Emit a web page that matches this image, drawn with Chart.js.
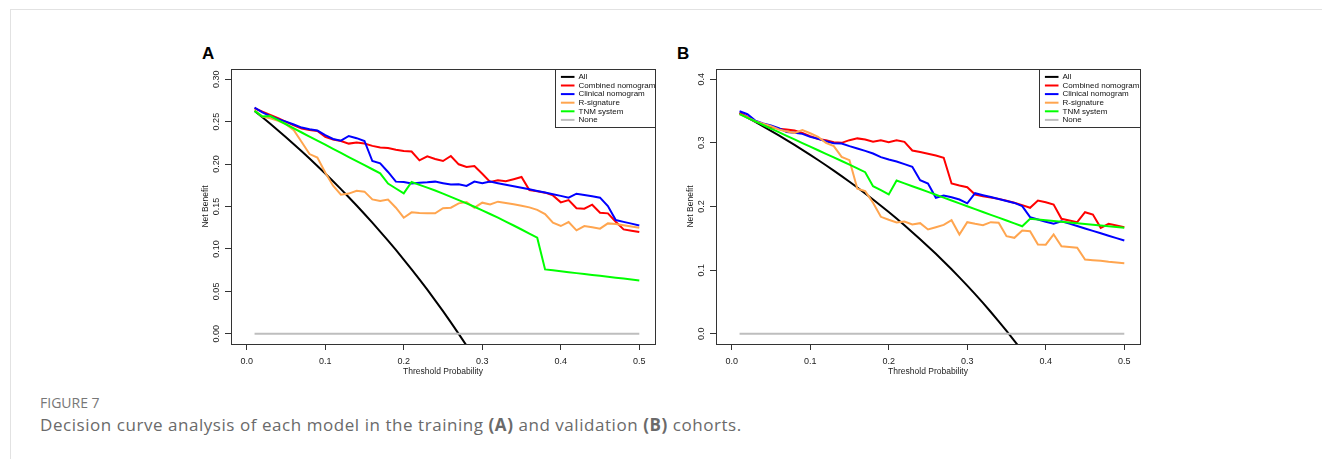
<!DOCTYPE html>
<html>
<head>
<meta charset="utf-8">
<script src="https://cdn.jsdelivr.net/npm/chart.js@4.4.1/dist/chart.umd.min.js"></script>
<style>
  body { margin: 0; background: #fff; width: 1322px; height: 459px; overflow: hidden; position: relative; font-family: 'Liberation Sans', Arial, sans-serif; }
  .frame { position: absolute; left: 10px; top: 9px; width: 1400px; height: 500px; border: 1px solid #e2e2e2; }
  .panel-label { position: absolute; font-weight: bold; font-size: 17px; line-height: 17px; color: #000; }
  canvas { position: absolute; }
  .fig { position: absolute; left: 40px; top: 396px; font-family: 'Open Sans', sans-serif; font-size: 14px; line-height: 14px; color: #777; }
  .caption { position: absolute; left: 40px; top: 416px; font-family: 'Open Sans', sans-serif; font-size: 17px; line-height: 17px; letter-spacing: 0.55px; color: #6a6a6a; white-space: nowrap; }
</style>
</head>
<body>
<div class="frame"></div>
<div class="panel-label" style="left:202px; top:45px;">A</div>
<div class="panel-label" style="left:677px; top:45px;">B</div>
<canvas id="chartA" width="475" height="345" style="left:190px; top:40px;"></canvas>
<canvas id="chartB" width="475" height="345" style="left:675px; top:40px;"></canvas>
<div class="fig">FIGURE 7</div>
<div class="caption">Decision curve analysis of each model in the training <b>(A)</b> and validation <b>(B)</b> cohorts.</div>

<script>
// threshold probabilities (x values of every curve)
const THRESHOLDS = [0.01, 0.02, 0.03, 0.04, 0.05, 0.06, 0.07, 0.08, 0.09, 0.10,
    0.11, 0.12, 0.13, 0.14, 0.15, 0.16, 0.17, 0.18, 0.19, 0.20,
    0.21, 0.22, 0.23, 0.24, 0.25, 0.26, 0.27, 0.28, 0.29, 0.30,
    0.31, 0.32, 0.33, 0.34, 0.35, 0.36, 0.37, 0.38, 0.39, 0.40,
    0.41, 0.42, 0.43, 0.44, 0.45, 0.46, 0.47, 0.48, 0.49, 0.50];

const X_TICKS = [0, 0.1, 0.2, 0.3, 0.4, 0.5];
const X_TICK_LABELS = ['0.0', '0.1', '0.2', '0.3', '0.4', '0.5'];
const Y_TICKS_A = [0, 0.05, 0.10, 0.15, 0.20, 0.25, 0.30];
const Y_TICK_LABELS_A = ['0.00', '0.05', '0.10', '0.15', '0.20', '0.25', '0.30'];
const Y_TICKS_B = [0, 0.1, 0.2, 0.3, 0.4];
const Y_TICK_LABELS_B = ['0.0', '0.1', '0.2', '0.3', '0.4'];

const SERIES_NAMES = ['All', 'Combined nomogram', 'Clinical nomogram', 'R-signature', 'TNM system', 'None'];
const SERIES_COLORS = ['#000000', '#ff0000', '#0000ff', '#ffa54f', '#00ff00', '#bebebe'];

// A: training cohort
const ALL_A = [0.2626, 0.2551, 0.2474, 0.2396, 0.2316, 0.2234, 0.2151, 0.2065, 0.1978, 0.1889,
    0.1798, 0.1705, 0.1609, 0.1512, 0.1412, 0.1310, 0.1205, 0.1098, 0.0988, 0.0875,
    0.0760, 0.0641, 0.0520, 0.0395, 0.0267, 0.0135, 0.0000, -0.0139, -0.0282];
const COMBINED_A = [0.2658, 0.2618, 0.2580, 0.2540, 0.2497, 0.2455, 0.2420, 0.2402, 0.2390, 0.2320,
    0.2290, 0.2272, 0.2241, 0.2253, 0.2243, 0.2214, 0.2196, 0.2188, 0.2168, 0.2154,
    0.2147, 0.2044, 0.2092, 0.2060, 0.2036, 0.2095, 0.1997, 0.1966, 0.1977, 0.1885,
    0.1790, 0.1810, 0.1797, 0.1822, 0.1848, 0.1694, 0.1680, 0.1663, 0.1631, 0.1549,
    0.1576, 0.1480, 0.1474, 0.1521, 0.1427, 0.1419, 0.1321, 0.1230, 0.1215, 0.1199];
const CLINICAL_A = [0.2666, 0.2610, 0.2565, 0.2530, 0.2500, 0.2466, 0.2430, 0.2410, 0.2395, 0.2340,
    0.2295, 0.2275, 0.2331, 0.2305, 0.2272, 0.2036, 0.2009, 0.1907, 0.1793, 0.1789,
    0.1770, 0.1781, 0.1785, 0.1793, 0.1775, 0.1758, 0.1762, 0.1742, 0.1793, 0.1773,
    0.1793, 0.1775, 0.1757, 0.1738, 0.1720, 0.1702, 0.1683, 0.1664, 0.1645, 0.1625,
    0.1604, 0.1651, 0.1636, 0.1620, 0.1604, 0.1505, 0.1340, 0.1319, 0.1298, 0.1277];
const RSIG_A = [0.2634, 0.2560, 0.2540, 0.2510, 0.2470, 0.2400, 0.2260, 0.2118, 0.2076, 0.1900,
    0.1745, 0.1640, 0.1652, 0.1685, 0.1675, 0.1584, 0.1564, 0.1582, 0.1486, 0.1368,
    0.1431, 0.1424, 0.1420, 0.1420, 0.1480, 0.1486, 0.1537, 0.1553, 0.1486, 0.1545,
    0.1525, 0.1557, 0.1541, 0.1526, 0.1510, 0.1490, 0.1460, 0.1410, 0.1309, 0.1270,
    0.1317, 0.1219, 0.1270, 0.1255, 0.1239, 0.1301, 0.1295, 0.1280, 0.1265, 0.1250];
const TNM_A = [0.2627, 0.2560, 0.2565, 0.2517, 0.2469, 0.2420, 0.2372, 0.2324, 0.2276, 0.2228,
    0.2180, 0.2131, 0.2083, 0.2035, 0.1987, 0.1939, 0.1890, 0.1770, 0.1712, 0.1655,
    0.1789, 0.1755, 0.1722, 0.1688, 0.1652, 0.1614, 0.1575, 0.1536, 0.1497, 0.1455,
    0.1412, 0.1368, 0.1322, 0.1276, 0.1229, 0.1181, 0.1132, 0.0759, 0.0748, 0.0737,
    0.0726, 0.0715, 0.0705, 0.0694, 0.0683, 0.0672, 0.0661, 0.0651, 0.0640, 0.0629];

// B: validation cohort
const ALL_B = [0.3465, 0.3398, 0.3330, 0.3260, 0.3189, 0.3117, 0.3043, 0.2967, 0.2890, 0.2811,
    0.2730, 0.2648, 0.2563, 0.2477, 0.2388, 0.2298, 0.2205, 0.2110, 0.2012, 0.1913,
    0.1810, 0.1705, 0.1597, 0.1487, 0.1373, 0.1257, 0.1137, 0.1014, 0.0887, 0.0757,
    0.0623, 0.0485, 0.0343, 0.0197, 0.0046, -0.0109, -0.0270];
const COMBINED_B = [0.3470, 0.3408, 0.3340, 0.3293, 0.3250, 0.3220, 0.3210, 0.3194, 0.3157, 0.3105,
    0.3060, 0.3040, 0.3010, 0.3000, 0.3042, 0.3070, 0.3052, 0.3016, 0.3042, 0.3010,
    0.3042, 0.3016, 0.2880, 0.2855, 0.2830, 0.2800, 0.2765, 0.2361, 0.2330, 0.2303,
    0.2188, 0.2162, 0.2141, 0.2120, 0.2089, 0.2058, 0.2021, 0.1980, 0.2094, 0.2068,
    0.2031, 0.1807, 0.1780, 0.1753, 0.1910, 0.1874, 0.1665, 0.1728, 0.1702, 0.1675];
const CLINICAL_B = [0.3497, 0.3450, 0.3350, 0.3304, 0.3272, 0.3230, 0.3170, 0.3160, 0.3141, 0.3094,
    0.3063, 0.3026, 0.2995, 0.2990, 0.2948, 0.2911, 0.2874, 0.2832, 0.2775, 0.2738,
    0.2707, 0.2665, 0.2624, 0.2413, 0.2361, 0.2137, 0.2173, 0.2145, 0.2110, 0.2050,
    0.2209, 0.2178, 0.2148, 0.2117, 0.2087, 0.2056, 0.2005, 0.1832, 0.1797, 0.1760,
    0.1728, 0.1769, 0.1731, 0.1693, 0.1655, 0.1617, 0.1579, 0.1541, 0.1503, 0.1466];
const RSIG_B = [0.3450, 0.3400, 0.3340, 0.3300, 0.3262, 0.3210, 0.3178, 0.3157, 0.3199, 0.3150,
    0.3095, 0.3000, 0.2948, 0.2780, 0.2728, 0.2278, 0.2241, 0.2058, 0.1838, 0.1791,
    0.1749, 0.1764, 0.1717, 0.1738, 0.1639, 0.1675, 0.1712, 0.1785, 0.1560, 0.1753,
    0.1728, 0.1707, 0.1754, 0.1744, 0.1533, 0.1508, 0.1623, 0.1612, 0.1403, 0.1400,
    0.1560, 0.1376, 0.1365, 0.1351, 0.1167, 0.1157, 0.1147, 0.1131, 0.1120, 0.1110];
const TNM_B = [0.3450, 0.3393, 0.3337, 0.3280, 0.3224, 0.3167, 0.3110, 0.3054, 0.2997, 0.2941,
    0.2884, 0.2828, 0.2771, 0.2715, 0.2658, 0.2600, 0.2539, 0.2319, 0.2256, 0.2189,
    0.2409, 0.2364, 0.2319, 0.2274, 0.2229, 0.2184, 0.2139, 0.2094, 0.2049, 0.2004,
    0.1959, 0.1914, 0.1869, 0.1825, 0.1780, 0.1735, 0.1690, 0.1807, 0.1795, 0.1783,
    0.1772, 0.1760, 0.1748, 0.1736, 0.1724, 0.1713, 0.1701, 0.1689, 0.1677, 0.1665];

// "None" reference line
const NONE_X = [0.01, 0.50];
const NONE_Y = [0, 0];

const FONT = "'Liberation Sans', Arial, sans-serif";
Chart.defaults.font.family = FONT;

function toPoints(xs, ys) {
    return ys.map((y, i) => ({ x: xs[i], y: y }));
}

// box, rotated y labels, axis titles and legend, drawn the way base R does
const rStyle = {
    id: 'rStyle',
    afterDatasetsDraw(chart, args, opts) {
        const ctx = chart.ctx;
        const a = chart.chartArea;
        const ys = chart.scales.y;
        ctx.save();

        ctx.strokeStyle = '#333';
        ctx.lineWidth = 1;
        ctx.strokeRect(Math.round(a.left) + 0.5, Math.round(a.top) + 0.5,
            Math.round(a.right - a.left), Math.round(a.bottom - a.top));

        ctx.fillStyle = '#222';
        ctx.textAlign = 'center';
        ctx.textBaseline = 'middle';
        ctx.font = '9px ' + FONT;
        opts.yTicks.forEach((v, i) => {
            ctx.save();
            ctx.translate(a.left - 14, ys.getPixelForValue(v));
            ctx.rotate(-Math.PI / 2);
            ctx.fillText(opts.yLabels[i], 0, 0);
            ctx.restore();
        });

        ctx.font = '8.5px ' + FONT;
        ctx.fillText('Threshold Probability', (a.left + a.right) / 2, a.bottom + 28);
        ctx.save();
        ctx.translate(a.left - 25, (a.top + a.bottom) / 2);
        ctx.rotate(-Math.PI / 2);
        ctx.fillText('Net Benefit', 0, 0);
        ctx.restore();

        // legend in top-right corner
        const lx = Math.round(a.right - opts.legendWidth) + 0.5;
        const ly = Math.round(a.top) + 0.5;
        ctx.fillStyle = '#fff';
        ctx.fillRect(lx, ly, opts.legendWidth, 58);
        ctx.strokeStyle = '#333';
        ctx.lineWidth = 1;
        ctx.strokeRect(lx, ly, Math.round(opts.legendWidth), 58);
        ctx.font = '8px ' + FONT;
        ctx.textAlign = 'left';
        chart.data.datasets.forEach((ds, i) => {
            const y = ly + 7.4 + i * 8.6;
            ctx.strokeStyle = ds.borderColor;
            ctx.lineWidth = 2;
            ctx.beginPath();
            ctx.moveTo(lx + 5.4, y);
            ctx.lineTo(lx + 19, y);
            ctx.stroke();
            ctx.fillStyle = '#111';
            ctx.fillText(ds.label, lx + 23, y);
        });
        ctx.restore();
    }
};

function makeChart(id, series, yMin, yMax, yTicks, yLabels, legendWidth) {
    const datasets = series.map((s, i) => ({
        label: SERIES_NAMES[i],
        data: toPoints(s.x, s.y),
        borderColor: SERIES_COLORS[i],
        backgroundColor: SERIES_COLORS[i],
        borderWidth: 2,
        pointRadius: 0,
        tension: 0,
        fill: false,
        order: 10 - i
    }));
    return new Chart(document.getElementById(id), {
        type: 'line',
        data: { datasets: datasets },
        plugins: [rStyle],
        options: {
            responsive: false,
            animation: false,
            devicePixelRatio: 1,
            layout: { padding: { left: 35, right: 10, top: 29, bottom: 12 } },
            plugins: {
                legend: { display: false },
                tooltip: { enabled: false },
                rStyle: { yTicks: yTicks, yLabels: yLabels, legendWidth: legendWidth }
            },
            scales: {
                x: {
                    type: 'linear',
                    min: -0.02,
                    max: 0.52,
                    afterBuildTicks: (s) => { s.ticks = X_TICKS.map(v => ({ value: v })); },
                    ticks: {
                        color: '#222',
                        font: { size: 9, lineHeight: 1 },
                        padding: 7,
                        maxRotation: 0,
                        autoSkip: false,
                        callback: (v, i) => X_TICK_LABELS[i]
                    },
                    grid: { drawOnChartArea: false, drawTicks: true, tickLength: 6, color: '#333' },
                    border: { display: false },
                    title: { display: false }
                },
                y: {
                    type: 'linear',
                    min: yMin,
                    max: yMax,
                    afterBuildTicks: (s) => { s.ticks = yTicks.map(v => ({ value: v })); },
                    ticks: { display: false },
                    grid: { drawOnChartArea: false, drawTicks: true, tickLength: 6, color: '#333' },
                    border: { display: false }
                }
            }
        }
    });
}

makeChart('chartA', [
    { x: THRESHOLDS, y: ALL_A },
    { x: THRESHOLDS, y: COMBINED_A },
    { x: THRESHOLDS, y: CLINICAL_A },
    { x: THRESHOLDS, y: RSIG_A },
    { x: THRESHOLDS, y: TNM_A },
    { x: NONE_X, y: NONE_Y }
], -0.012, 0.312, Y_TICKS_A, Y_TICK_LABELS_A, 100);

makeChart('chartB', [
    { x: THRESHOLDS, y: ALL_B },
    { x: THRESHOLDS, y: COMBINED_B },
    { x: THRESHOLDS, y: CLINICAL_B },
    { x: THRESHOLDS, y: RSIG_B },
    { x: THRESHOLDS, y: TNM_B },
    { x: NONE_X, y: NONE_Y }
], -0.016, 0.416, Y_TICKS_B, Y_TICK_LABELS_B, 101);
</script>
</body>
</html>
